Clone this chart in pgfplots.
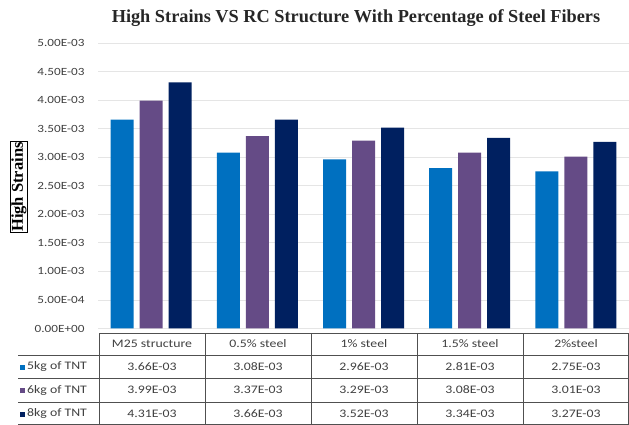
\documentclass[border=0pt]{standalone}
\usepackage{pgfplots}
\pgfplotsset{compat=1.18}
\usepackage{fontspec}
\setmainfont{Carlito}[FakeStretch=1.2]
\newfontfamily\titlefont{Liberation Serif}
\definecolor{cA}{HTML}{0070C0}
\definecolor{cB}{HTML}{654B86}
\definecolor{cC}{HTML}{002060}
\definecolor{txt}{HTML}{404040}
\definecolor{tline}{HTML}{505050}
\begin{document}
\begin{tikzpicture}[x=1pt,y=1pt]
\useasboundingbox (0,0) rectangle (629,425);
\begin{axis}[
  at={(98pt,96.5pt)}, anchor=south west,
  scale only axis, width=531pt, height=285.5pt,
  xmin=-0.5, xmax=4.5, ymin=0, ymax=0.005,
  ybar=6pt, bar width=23pt,
  axis line style={draw=none},
  xtick=\empty,
  ytick={0,0.0005,0.001,0.0015,0.002,0.0025,0.003,0.0035,0.004,0.0045,0.005},
  yticklabels={0.00E+00,5.00E-04,1.00E-03,1.50E-03,2.00E-03,2.50E-03,3.00E-03,3.50E-03,4.00E-03,4.50E-03,5.00E-03},
  major tick length=0pt,
  ymajorgrids, grid style={black!10, line width=0.8pt},
  yticklabel style={font=\fontsize{11}{12}\selectfont, text=txt, xshift=-10pt},
  scaled y ticks=false,
]
\addplot[fill=cA, draw=none] coordinates {(0,3.66e-3) (1,3.08e-3) (2,2.96e-3) (3,2.81e-3) (4,2.75e-3)};
\addplot[fill=cB, draw=none] coordinates {(0,3.99e-3) (1,3.37e-3) (2,3.29e-3) (3,3.08e-3) (4,3.01e-3)};
\addplot[fill=cC, draw=none] coordinates {(0,4.31e-3) (1,3.66e-3) (2,3.52e-3) (3,3.34e-3) (4,3.27e-3)};
\end{axis}
% title
\node[font=\titlefont\bfseries\fontsize{18.3}{21}\selectfont, text=black!85] at (356,407) {High Strains VS RC Structure With Percentage of Steel Fibers};
% y label
\node[rotate=90, draw=black, line width=0.8pt, inner sep=1.2pt, font=\titlefont\bfseries\fontsize{16.5}{19}\selectfont] at (19,238) {High Strains};
% table lines
\begin{scope}[draw=tline, line width=0.7pt]
\draw (99,92) -- (629,92);
\draw (18,70) -- (629,70);
\draw (18,47) -- (629,47);
\draw (18,23) -- (629,23);
\draw (18,0.4) -- (629,0.4);
\foreach \x in {99,205,311,417,523,628.6} \draw (\x,0) -- (\x,92);
\end{scope}
% table text
\begin{scope}[font=\fontsize{11.5}{13}\selectfont, text=txt]
\node at (152,81) {M25 structure};
\node at (258,81) {0.5\% steel};
\node at (364,81) {1\% steel};
\node at (470,81) {1.5\% steel};
\node at (576,81) {2\%steel};
\node[anchor=west, inner sep=0pt] at (20,58.5) {\textcolor{cA}{\rule{5pt}{5pt}}\,5kg of TNT};
\node[anchor=west, inner sep=0pt] at (20,35) {\textcolor{cB}{\rule{5pt}{5pt}}\,6kg of TNT};
\node[anchor=west, inner sep=0pt] at (20,11.5) {\textcolor{cC}{\rule{5pt}{5pt}}\,8kg of TNT};
\node at (152,58.5) {3.66E-03};
\node at (258,58.5) {3.08E-03};
\node at (364,58.5) {2.96E-03};
\node at (470,58.5) {2.81E-03};
\node at (576,58.5) {2.75E-03};
\node at (152,35) {3.99E-03};
\node at (258,35) {3.37E-03};
\node at (364,35) {3.29E-03};
\node at (470,35) {3.08E-03};
\node at (576,35) {3.01E-03};
\node at (152,11.5) {4.31E-03};
\node at (258,11.5) {3.66E-03};
\node at (364,11.5) {3.52E-03};
\node at (470,11.5) {3.34E-03};
\node at (576,11.5) {3.27E-03};
\end{scope}
\end{tikzpicture}
\end{document}
